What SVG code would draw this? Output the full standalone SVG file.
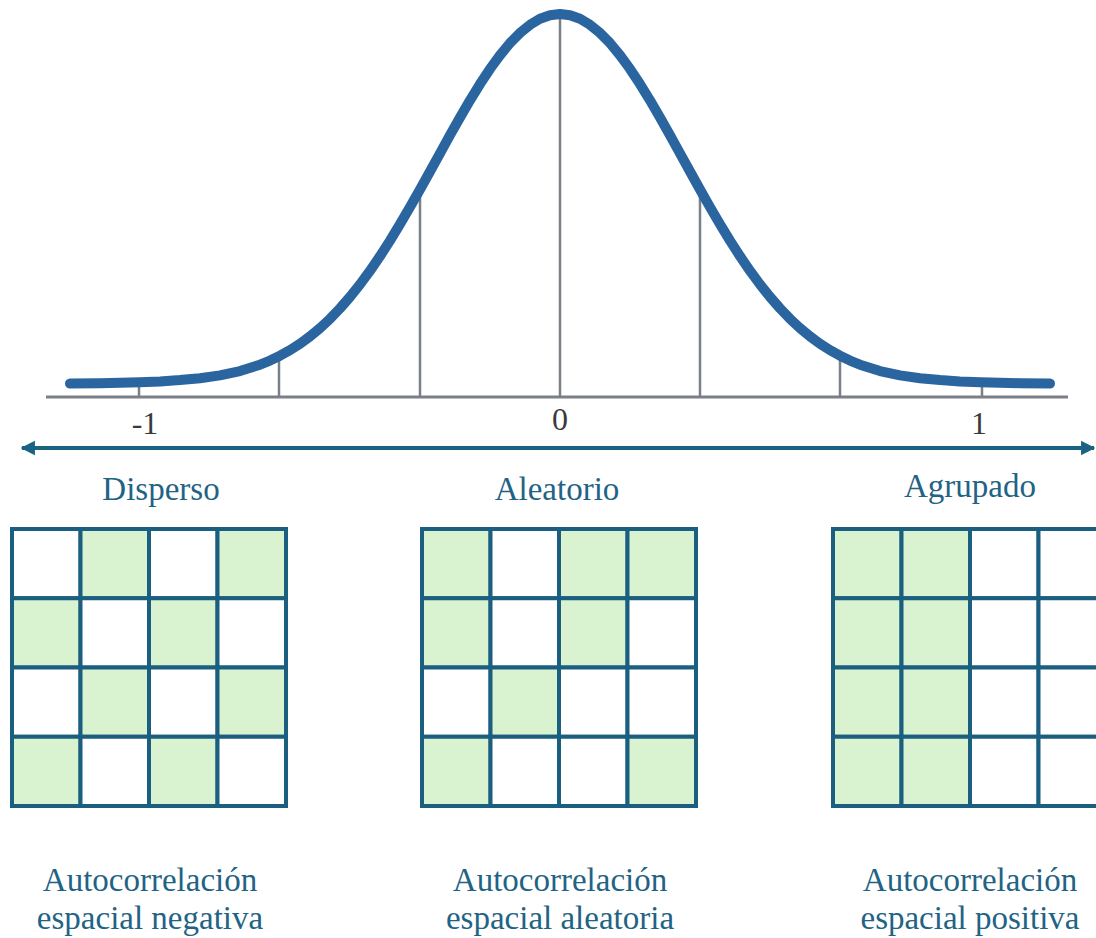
<svg xmlns="http://www.w3.org/2000/svg" width="1096" height="938" viewBox="0 0 1096 938">
<style>
.cell{stroke:#1b5f80;stroke-width:4;}
.g{fill:#d9f2d0;}
.w{fill:#ffffff;}
.vl{stroke:#7a7f88;stroke-width:2.5;}
.num{font-family:"Liberation Serif","Times New Roman","DejaVu Serif",serif;font-size:32px;fill:#3a3a3a;text-anchor:middle;}
.lab{font-family:"Liberation Serif","Times New Roman","DejaVu Serif",serif;font-size:33px;fill:#1f6385;text-anchor:middle;}
</style>
<defs>
<marker id="ah" viewBox="0 0 10 10" refX="9" refY="5" markerWidth="3.6" markerHeight="4" orient="auto-start-reverse" markerUnits="strokeWidth">
<path d="M0,0 L10,5 L0,10 z" fill="#1b6384"/>
</marker>
</defs>
<rect width="1096" height="938" fill="#ffffff"/>
<g id="axis">
<line x1="46" y1="397" x2="1068" y2="397" stroke="#7a7f88" stroke-width="3"/>
<line class="vl" x1="139" y1="387" x2="139" y2="397"/>
<line class="vl" x1="982" y1="387" x2="982" y2="397"/>
<line class="vl" x1="279" y1="355" x2="279" y2="397"/>
<line class="vl" x1="420" y1="190" x2="420" y2="397"/>
<line class="vl" x1="560" y1="16" x2="560" y2="397"/>
<line class="vl" x1="700" y1="190" x2="700" y2="397"/>
<line class="vl" x1="840" y1="355" x2="840" y2="397"/>
</g>
<g id="curve">
<path d="M70,383.6 L100,383.2 L120,382.8 L140,382.2 L160,381.4 L180,380.1 L200,378.2 L220,375.4 L240,371.1 L260,364.7 L270,360.6 L280,355.7 L290,350.1 L300,343.7 L310,336.4 L320,328.1 L330,318.8 L340,308.4 L350,296.9 L360,284.4 L370,270.8 L380,256.2 L390,240.6 L400,224.2 L410,207.1 L420,189.5 L430,171.5 L440,153.3 L450,135.2 L460,117.5 L470,100.3 L480,84.1 L490,68.9 L500,55.2 L510,43.1 L520,32.9 L530,24.8 L540,18.8 L550,15.2 L560,14 L570,15.2 L580,18.8 L590,24.8 L600,32.9 L610,43.1 L620,55.2 L630,68.9 L640,84.1 L650,100.3 L660,117.5 L670,135.2 L680,153.3 L690,171.5 L700,189.5 L710,207.1 L720,224.2 L730,240.6 L740,256.2 L750,270.8 L760,284.4 L770,296.9 L780,308.4 L790,318.8 L800,328.1 L810,336.4 L820,343.7 L830,350.1 L840,355.7 L850,360.6 L860,364.7 L880,371.1 L900,375.4 L920,378.2 L940,380.1 L960,381.4 L980,382.2 L1000,382.8 L1020,383.2 L1050,383.6" fill="none" stroke="#2a65a0" stroke-width="10" stroke-linecap="round" stroke-linejoin="round"/>
</g>
<g id="numbers">
<text class="num" x="145" y="434">-1</text>
<text class="num" x="560" y="430">0</text>
<text class="num" x="979" y="434">1</text>
</g>
<g id="connectors">
<line x1="22" y1="448" x2="1094" y2="448" stroke="#1b6384" stroke-width="4" marker-start="url(#ah)" marker-end="url(#ah)"/>
</g>
<g id="labels">
<text class="lab" x="161" y="500">Disperso</text>
<text class="lab" x="557" y="500">Aleatorio</text>
<text class="lab" x="970" y="497">Agrupado</text>
</g>
<g id="grid-disperso">
<rect class="cell w" x="12" y="529" width="68.5" height="69.25"/>
<rect class="cell g" x="80.5" y="529" width="68.5" height="69.25"/>
<rect class="cell w" x="149" y="529" width="68.5" height="69.25"/>
<rect class="cell g" x="217.5" y="529" width="68.5" height="69.25"/>
<rect class="cell g" x="12" y="598.25" width="68.5" height="69.25"/>
<rect class="cell w" x="80.5" y="598.25" width="68.5" height="69.25"/>
<rect class="cell g" x="149" y="598.25" width="68.5" height="69.25"/>
<rect class="cell w" x="217.5" y="598.25" width="68.5" height="69.25"/>
<rect class="cell w" x="12" y="667.5" width="68.5" height="69.25"/>
<rect class="cell g" x="80.5" y="667.5" width="68.5" height="69.25"/>
<rect class="cell w" x="149" y="667.5" width="68.5" height="69.25"/>
<rect class="cell g" x="217.5" y="667.5" width="68.5" height="69.25"/>
<rect class="cell g" x="12" y="736.75" width="68.5" height="69.25"/>
<rect class="cell w" x="80.5" y="736.75" width="68.5" height="69.25"/>
<rect class="cell g" x="149" y="736.75" width="68.5" height="69.25"/>
<rect class="cell w" x="217.5" y="736.75" width="68.5" height="69.25"/>
</g>
<g id="grid-aleatorio">
<rect class="cell g" x="422" y="529" width="68.5" height="69.25"/>
<rect class="cell w" x="490.5" y="529" width="68.5" height="69.25"/>
<rect class="cell g" x="559" y="529" width="68.5" height="69.25"/>
<rect class="cell g" x="627.5" y="529" width="68.5" height="69.25"/>
<rect class="cell g" x="422" y="598.25" width="68.5" height="69.25"/>
<rect class="cell w" x="490.5" y="598.25" width="68.5" height="69.25"/>
<rect class="cell g" x="559" y="598.25" width="68.5" height="69.25"/>
<rect class="cell w" x="627.5" y="598.25" width="68.5" height="69.25"/>
<rect class="cell w" x="422" y="667.5" width="68.5" height="69.25"/>
<rect class="cell g" x="490.5" y="667.5" width="68.5" height="69.25"/>
<rect class="cell w" x="559" y="667.5" width="68.5" height="69.25"/>
<rect class="cell w" x="627.5" y="667.5" width="68.5" height="69.25"/>
<rect class="cell g" x="422" y="736.75" width="68.5" height="69.25"/>
<rect class="cell w" x="490.5" y="736.75" width="68.5" height="69.25"/>
<rect class="cell w" x="559" y="736.75" width="68.5" height="69.25"/>
<rect class="cell g" x="627.5" y="736.75" width="68.5" height="69.25"/>
</g>
<g id="grid-agrupado">
<rect class="cell g" x="833" y="529" width="68.5" height="69.25"/>
<rect class="cell g" x="901.5" y="529" width="68.5" height="69.25"/>
<rect class="cell w" x="970" y="529" width="68.5" height="69.25"/>
<rect class="cell w" x="1038.5" y="529" width="68.5" height="69.25"/>
<rect class="cell g" x="833" y="598.25" width="68.5" height="69.25"/>
<rect class="cell g" x="901.5" y="598.25" width="68.5" height="69.25"/>
<rect class="cell w" x="970" y="598.25" width="68.5" height="69.25"/>
<rect class="cell w" x="1038.5" y="598.25" width="68.5" height="69.25"/>
<rect class="cell g" x="833" y="667.5" width="68.5" height="69.25"/>
<rect class="cell g" x="901.5" y="667.5" width="68.5" height="69.25"/>
<rect class="cell w" x="970" y="667.5" width="68.5" height="69.25"/>
<rect class="cell w" x="1038.5" y="667.5" width="68.5" height="69.25"/>
<rect class="cell g" x="833" y="736.75" width="68.5" height="69.25"/>
<rect class="cell g" x="901.5" y="736.75" width="68.5" height="69.25"/>
<rect class="cell w" x="970" y="736.75" width="68.5" height="69.25"/>
<rect class="cell w" x="1038.5" y="736.75" width="68.5" height="69.25"/>
</g>
<g id="captions">
<text class="lab" x="150" y="891">Autocorrelación</text>
<text class="lab" x="150" y="929">espacial negativa</text>
<text class="lab" x="560" y="891">Autocorrelación</text>
<text class="lab" x="560" y="929">espacial aleatoria</text>
<text class="lab" x="970" y="891">Autocorrelación</text>
<text class="lab" x="970" y="929">espacial positiva</text>
</g>
</svg>
